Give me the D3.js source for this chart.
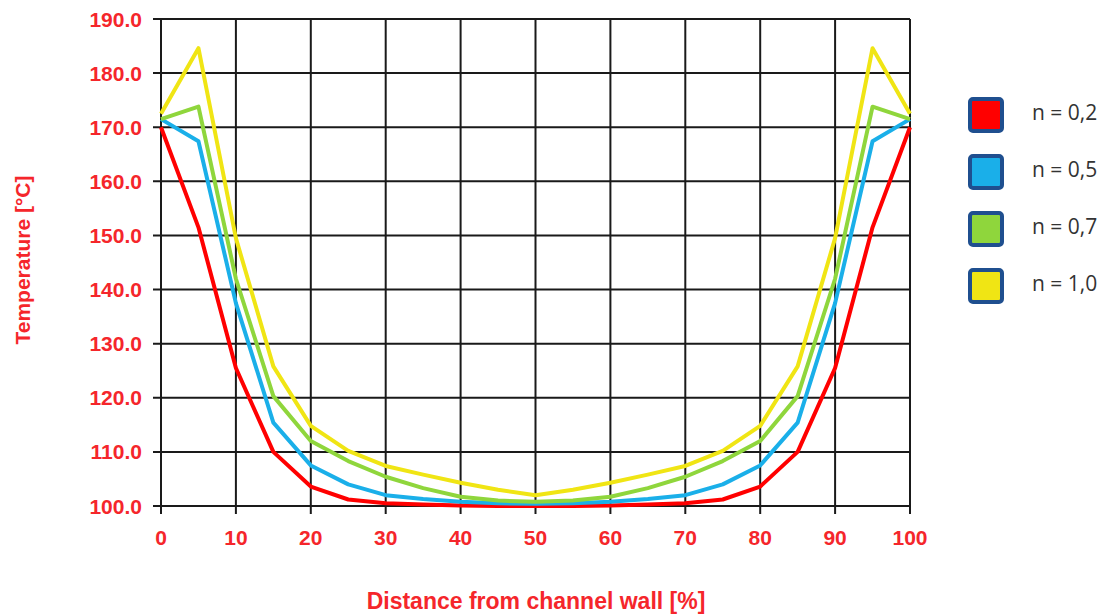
<!DOCTYPE html>
<html>
<head>
<meta charset="utf-8">
<script src="https://cdn.jsdelivr.net/npm/d3@7"></script>
<style>
  body { margin: 0; background: #fff; }
  svg { display: block; }
</style>
</head>
<body>
<div></div>
<script>
// distance from wall, every 5 %
const distance = [0, 5, 10, 15, 20, 25, 30, 35, 40, 45, 50, 55, 60, 65, 70, 75, 80, 85, 90, 95, 100];

// temperature per flow index n
const tempN02 = [170.0, 151.5, 125.5, 110.0, 103.6, 101.2, 100.5, 100.3, 100.1, 100.0, 100.0, 100.0, 100.1, 100.3, 100.5, 101.2, 103.6, 110.0, 125.5, 151.5, 170.0];
const tempN05 = [171.5, 167.4, 137.5, 115.4, 107.5, 104.0, 102.0, 101.3, 100.8, 100.5, 100.4, 100.5, 100.8, 101.3, 102.0, 104.0, 107.5, 115.4, 137.5, 167.4, 171.5];
const tempN07 = [171.5, 173.8, 142.0, 120.3, 112.0, 108.3, 105.4, 103.3, 101.7, 101.0, 100.8, 101.0, 101.7, 103.3, 105.4, 108.3, 112.0, 120.3, 142.0, 173.8, 171.5];
const tempN10 = [172.5, 184.6, 149.5, 125.8, 114.8, 110.2, 107.4, 105.8, 104.3, 103.0, 102.0, 103.0, 104.3, 105.8, 107.4, 110.2, 114.8, 125.8, 149.5, 184.6, 172.5];

const seriesNames = ["n = 0,2", "n = 0,5", "n = 0,7", "n = 1,0"];
const seriesColors = ["#ff0000", "#1aafe9", "#8fd63c", "#f0e514"];
const seriesValues = [tempN02, tempN05, tempN07, tempN10];

const xTicks = [0, 10, 20, 30, 40, 50, 60, 70, 80, 90, 100];
const yTicks = [100, 110, 120, 130, 140, 150, 160, 170, 180, 190];

const w = 1109, h = 615;
const margin = { left: 161, right: 199, top: 19, bottom: 109 };
const red = "#f5262b";
const labelFont = "bold 21px 'Liberation Sans', Arial, sans-serif";

const svg = d3.select("div")
  .append("svg")
  .attr("width", w)
  .attr("height", h);

const x = d3.scaleLinear().domain([0, 100]).range([margin.left, w - margin.right]);
const y = d3.scaleLinear().domain([100, 190]).range([h - margin.bottom, margin.top]);

// grid
const grid = svg.append("g").attr("stroke", "#1a1a1a").attr("stroke-width", 2);
grid.selectAll(".gx")
  .data(xTicks)
  .enter()
  .append("line")
  .attr("x1", d => x(d)).attr("x2", d => x(d))
  .attr("y1", y(190)).attr("y2", y(100) + 8);
grid.selectAll(".gy")
  .data(yTicks)
  .enter()
  .append("line")
  .attr("x1", x(0) - 8).attr("x2", x(100))
  .attr("y1", d => y(d)).attr("y2", d => y(d));

// tick labels
svg.append("g")
  .selectAll("text")
  .data(yTicks)
  .enter()
  .append("text")
  .attr("x", x(0) - 19)
  .attr("y", d => y(d))
  .attr("dy", "0.36em")
  .attr("text-anchor", "end")
  .attr("fill", red)
  .style("font", labelFont)
  .text(d => d.toFixed(1));

svg.append("g")
  .selectAll("text")
  .data(xTicks)
  .enter()
  .append("text")
  .attr("x", d => x(d))
  .attr("y", y(100) + 39)
  .attr("text-anchor", "middle")
  .attr("fill", red)
  .style("font", labelFont)
  .text(d => d);

// axis titles
svg.append("text")
  .attr("x", 536)
  .attr("y", 609)
  .attr("text-anchor", "middle")
  .attr("fill", red)
  .style("font", "bold 23px 'Liberation Sans', Arial, sans-serif")
  .text("Distance from channel wall [%]");

svg.append("text")
  .attr("transform", "translate(30,260) rotate(-90)")
  .attr("text-anchor", "middle")
  .attr("fill", red)
  .style("font", "bold 21px 'Liberation Sans', Arial, sans-serif")
  .text("Temperature [°C]");

// lines
const line = d3.line()
  .x((d, i) => x(distance[i]))
  .y(d => y(d));

svg.append("g")
  .selectAll("path")
  .data(seriesValues)
  .enter()
  .append("path")
  .attr("d", line)
  .attr("fill", "none")
  .attr("stroke", (d, i) => seriesColors[i])
  .attr("stroke-width", 4)
  .attr("stroke-linejoin", "round");

// legend
const legend = svg.append("g")
  .selectAll("g")
  .data(seriesNames)
  .enter()
  .append("g")
  .attr("transform", (d, i) => `translate(970,${99 + i * 57})`);

legend.append("rect")
  .attr("width", 32)
  .attr("height", 32)
  .attr("rx", 3)
  .attr("fill", (d, i) => seriesColors[i])
  .attr("stroke", "#1f4f8f")
  .attr("stroke-width", 4);

legend.append("text")
  .attr("x", 62)
  .attr("y", 13)
  .attr("dy", "0.36em")
  .attr("fill", "#333")
  .style("font", "21px 'Open Sans', sans-serif")
  .text(d => d);
</script>
</body>
</html>
